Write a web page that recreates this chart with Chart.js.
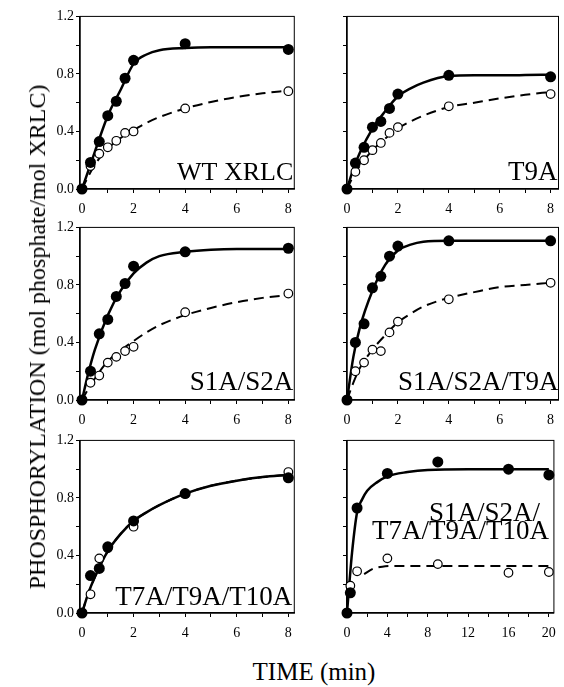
<!DOCTYPE html>
<html>
<head>
<meta charset="utf-8">
<script src="https://cdn.jsdelivr.net/npm/chart.js@4.4.1/dist/chart.umd.min.js"></script>
<style>
  body { margin: 0; background: #fff; }
  #page { position: relative; width: 564px; height: 687px; overflow: hidden; font-family: "Liberation Serif", serif; color: #000; }
  #page canvas { position: absolute; }
  .ytitle { position: absolute; left: 37px; top: 337px; transform: translate(-50%, -50%) rotate(-90deg); white-space: nowrap; font-size: 24px; line-height: 24px; }
  .xtitle { position: absolute; left: 314px; top: 659px; transform: translateX(-50%); white-space: nowrap; font-size: 25px; line-height: 25px; }
</style>
</head>
<body>
<div id="page">
  <canvas id="c1" width="270" height="213" style="left:30px;top:6px"></canvas>
  <canvas id="c2" width="234" height="213" style="left:330px;top:6px"></canvas>
  <canvas id="c3" width="270" height="213" style="left:30px;top:217px"></canvas>
  <canvas id="c4" width="234" height="213" style="left:330px;top:217px"></canvas>
  <canvas id="c5" width="270" height="213" style="left:30px;top:430px"></canvas>
  <canvas id="c6" width="234" height="213" style="left:330px;top:430px"></canvas>
  <div class="ytitle">PHOSPHORYLATION (mol phosphate/mol XRLC)</div>
  <div class="xtitle">TIME (min)</div>
</div>
<script>
// sampling times (min) for the 8-minute panels
const sampleTime = [0, 0.33, 0.67, 1, 1.33, 1.67, 2, 4, 8];
const fitTime = [0, 0.25, 0.5, 1, 1.5, 2, 2.5, 3, 4, 5, 6, 7, 8];

// WT XRLC
const wtFilled = [0, 0.185, 0.33, 0.51, 0.61, 0.77, 0.895, 1.01, 0.97];
const wtOpen = [0, 0.16, 0.245, 0.29, 0.335, 0.39, 0.40, 0.56, 0.68];
const wtSolid = [0, 0.13, 0.26, 0.51, 0.69, 0.87, 0.935, 0.965, 0.98, 0.985, 0.985, 0.985, 0.985];
const wtDash = [0, 0.09, 0.17, 0.28, 0.355, 0.41, 0.46, 0.50, 0.56, 0.605, 0.64, 0.665, 0.685];

// T9A
const t9Filled = [0, 0.18, 0.29, 0.43, 0.47, 0.56, 0.66, 0.79, 0.78];
const t9Open = [0, 0.12, 0.20, 0.27, 0.32, 0.39, 0.43, 0.575, 0.66];
const t9Solid = [0, 0.14, 0.25, 0.42, 0.54, 0.645, 0.70, 0.74, 0.785, 0.79, 0.79, 0.792, 0.795];
const t9Dash = [0, 0.09, 0.16, 0.27, 0.35, 0.42, 0.47, 0.51, 0.57, 0.60, 0.63, 0.655, 0.675];

// S1A/S2A
const s12Filled = [0, 0.20, 0.46, 0.56, 0.72, 0.81, 0.93, 1.03, 1.055];
const s12Open = [0, 0.12, 0.17, 0.26, 0.30, 0.34, 0.37, 0.61, 0.74];
const s12Solid = [0, 0.19, 0.35, 0.59, 0.76, 0.88, 0.955, 1.0, 1.03, 1.045, 1.05, 1.05, 1.05];
const s12Dash = [0, 0.08, 0.15, 0.27, 0.345, 0.41, 0.47, 0.52, 0.59, 0.64, 0.68, 0.71, 0.73];

// S1A/S2A/T9A
const s12t9Filled = [0, 0.40, 0.53, 0.78, 0.86, 1.0, 1.07, 1.107, 1.107];
const s12t9Open = [0, 0.20, 0.26, 0.35, 0.34, 0.47, 0.545, 0.70, 0.815];
const s12t9Solid = [0, 0.30, 0.50, 0.76, 0.94, 1.04, 1.08, 1.10, 1.107, 1.107, 1.107, 1.107, 1.107];
const s12t9Dash = [0, 0.12, 0.22, 0.35, 0.45, 0.54, 0.60, 0.65, 0.71, 0.75, 0.785, 0.80, 0.815];

// T7A/T9A/T10A
const t7Time = [0, 0.33, 0.67, 1, 2, 4, 8];
const t7Filled = [0, 0.26, 0.31, 0.46, 0.64, 0.83, 0.94];
const t7Open = [0, 0.13, 0.38, 0.45, 0.60, 0.83, 0.98];
const t7Solid = [0, 0.14, 0.25, 0.43, 0.55, 0.64, 0.70, 0.75, 0.83, 0.885, 0.92, 0.945, 0.96];
const t7Dash = [0, 0.14, 0.25, 0.43, 0.55, 0.64, 0.70, 0.75, 0.83, 0.885, 0.92, 0.945, 0.96];

// S1A/S2A/T7A/T9A/T10A (20 min)
const allTime = [0, 0.33, 1, 4, 9, 16, 20];
const allFilled = [0, 0.14, 0.73, 0.97, 1.05, 1.0, 0.96];
const allOpen = [0, 0.19, 0.29, 0.38, 0.34, 0.28, 0.285];
const allSolidTime = [0, 0.25, 0.5, 1, 1.5, 2, 3, 4, 6, 8, 12, 20];
const allSolid = [0, 0.22, 0.42, 0.70, 0.79, 0.85, 0.91, 0.95, 0.98, 0.995, 1.0, 1.0];
const allDashTime = [1.7, 2.5, 3.5, 5, 20];
const allDash = [0.27, 0.305, 0.322, 0.327, 0.327];

const serif = "'Liberation Serif', serif";
Chart.defaults.font.family = serif;
Chart.defaults.color = '#000';

function pts(xs, ys) {
    return xs.map((x, i) => ({ x: x, y: ys[i] }));
}

const frame = {
    id: 'frame',
    beforeDatasetsDraw(chart) {
        const a = chart.chartArea;
        const ctx = chart.ctx;
        ctx.save();
        ctx.strokeStyle = '#000';
        ctx.lineWidth = 1;
        ctx.strokeRect(a.left, a.top, a.right - a.left, a.bottom - a.top);
        ctx.restore();
    }
};

const panelLabel = {
    id: 'panelLabel',
    afterDatasetsDraw(chart, args, opts) {
        const a = chart.chartArea;
        const ctx = chart.ctx;
        ctx.save();
        ctx.fillStyle = '#000';
        ctx.textAlign = 'right';
        ctx.textBaseline = 'alphabetic';
        (opts.lines || []).forEach(l => {
            ctx.font = (l.size || 27) + 'px ' + serif;
            ctx.fillText(l.text, a.right - l.dx, a.bottom - l.dy);
        });
        ctx.restore();
    }
};

function panel(id, p) {
    const leftCol = p.col === 0;
    new Chart(document.getElementById(id), {
        type: 'scatter',
        data: {
            datasets: [
                { data: pts(p.tF, p.filled), pointRadius: 5.5, backgroundColor: '#000', borderColor: '#000', borderWidth: 0, order: 0, clip: false },
                { data: pts(p.tO, p.open), pointRadius: 4.3, backgroundColor: '#fff', borderColor: '#000', borderWidth: 1.2, order: 1, clip: false },
                { data: pts(p.tS, p.solid), showLine: true, pointRadius: 0, borderColor: '#000', borderWidth: 2.5, cubicInterpolationMode: 'monotone', order: 2, clip: false },
                { data: pts(p.tD, p.dash), showLine: true, pointRadius: 0, borderColor: '#000', borderWidth: 2, borderDash: [10, 6], cubicInterpolationMode: 'monotone', order: 3, clip: false }
            ]
        },
        options: {
            responsive: false,
            animation: false,
            events: [],
            layout: { padding: { top: 10, right: leftCol ? 4 : 2, left: 0, bottom: 0 } },
            plugins: {
                legend: { display: false },
                tooltip: { enabled: false },
                panelLabel: { lines: p.label }
            },
            scales: {
                x: {
                    type: 'linear',
                    min: p.xmin,
                    max: p.xmax,
                    afterFit: s => { s.height = 30; },
                    ticks: {
                        stepSize: p.xstep,
                        includeBounds: false,
                        maxRotation: 0,
                        autoSkip: false,
                        padding: 8,
                        color: '#000',
                        font: { family: serif, size: 14 },
                        callback: v => (Math.abs(v % p.xlab) < 1e-6 ? String(v) : '')
                    },
                    grid: { drawOnChartArea: false, tickLength: 4, color: '#000' },
                    border: { color: '#000', width: 1.5 }
                },
                y: {
                    min: 0,
                    max: 1.2,
                    afterFit: s => { s.width = leftCol ? 50 : 17; },
                    ticks: {
                        stepSize: 0.2,
                        autoSkip: false,
                        padding: 2,
                        color: '#000',
                        font: { family: serif, size: 14 },
                        callback: v => (leftCol && Math.round(v * 10) % 4 === 0 ? v.toFixed(1) : '')
                    },
                    grid: { drawOnChartArea: false, tickLength: 4, color: '#000' },
                    border: { color: '#000', width: 1.5 }
                }
            }
        },
        plugins: [frame, panelLabel]
    });
}

function drawAll() {
    panel('c1', { col: 0, xmin: -0.077, xmax: 8.23, xstep: 1, xlab: 2,
        tF: sampleTime, filled: wtFilled, tO: sampleTime, open: wtOpen,
        tS: fitTime, solid: wtSolid, tD: fitTime, dash: wtDash,
        label: [{ text: 'WT XRLC', dx: 1, dy: 9, size: 26 }] });

    panel('c2', { col: 1, xmin: 0, xmax: 8.31, xstep: 1, xlab: 2,
        tF: sampleTime, filled: t9Filled, tO: sampleTime, open: t9Open,
        tS: fitTime, solid: t9Solid, tD: fitTime, dash: t9Dash,
        label: [{ text: 'T9A', dx: 1, dy: 9 }] });

    panel('c3', { col: 0, xmin: -0.077, xmax: 8.23, xstep: 1, xlab: 2,
        tF: sampleTime, filled: s12Filled, tO: sampleTime, open: s12Open,
        tS: fitTime, solid: s12Solid, tD: fitTime, dash: s12Dash,
        label: [{ text: 'S1A/S2A', dx: 1, dy: 10 }] });

    panel('c4', { col: 1, xmin: 0, xmax: 8.31, xstep: 1, xlab: 2,
        tF: sampleTime, filled: s12t9Filled, tO: sampleTime, open: s12t9Open,
        tS: fitTime, solid: s12t9Solid, tD: fitTime, dash: s12t9Dash,
        label: [{ text: 'S1A/S2A/T9A', dx: 0, dy: 10 }] });

    panel('c5', { col: 0, xmin: -0.077, xmax: 8.23, xstep: 1, xlab: 2,
        tF: t7Time, filled: t7Filled, tO: t7Time, open: t7Open,
        tS: fitTime, solid: t7Solid, tD: fitTime, dash: t7Dash,
        label: [{ text: 'T7A/T9A/T10A', dx: 2, dy: 8 }] });

    panel('c6', { col: 1, xmin: 0, xmax: 20.5, xstep: 2, xlab: 4,
        tF: allTime, filled: allFilled, tO: allTime, open: allOpen,
        tS: allSolidTime, solid: allSolid, tD: allDashTime, dash: allDash,
        label: [{ text: 'S1A/S2A/', dx: 14, dy: 92 }, { text: 'T7A/T9A/T10A', dx: 5, dy: 74 }] });
}

document.fonts.load("14px 'Liberation Serif'").then(drawAll, drawAll);
</script>
</body>
</html>
